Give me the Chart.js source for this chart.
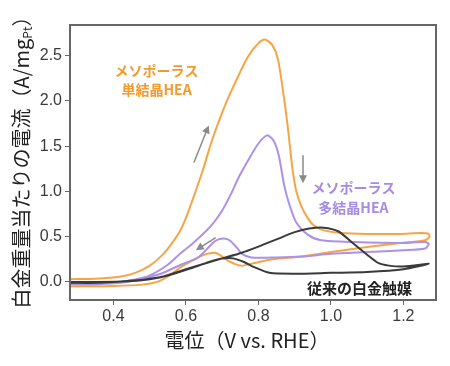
<!DOCTYPE html>
<html>
<head>
<meta charset="utf-8">
<script src="https://cdn.jsdelivr.net/npm/chart.js@4"></script>
<style>
  body { margin: 0; background: #fff; }
</style>
</head>
<body>
<canvas id="cv" width="450" height="366"></canvas>
<script>
// Potential (V vs. RHE) and current (A/mgPt), each loop is forward scan then backward scan
const orangeV = [0.28, 0.35, 0.42, 0.46, 0.50, 0.538, 0.56, 0.586, 0.605, 0.622, 0.647, 0.669, 0.693, 0.724, 0.771, 0.80, 0.818, 0.838, 0.854, 0.871, 0.879, 0.886, 0.894, 0.904, 0.918, 0.937, 0.954, 0.98, 1.03, 1.10, 1.19, 1.25, 1.27,
                 1.272, 1.26, 1.19, 1.09, 1.0, 0.92, 0.84, 0.79, 0.752, 0.718, 0.683, 0.65, 0.62, 0.585, 0.55, 0.52, 0.48, 0.40, 0.28];
const orangeI = [0.03, 0.035, 0.06, 0.10, 0.18, 0.31, 0.42, 0.58, 0.76, 0.95, 1.24, 1.53, 1.80, 2.10, 2.49, 2.64, 2.68, 2.62, 2.46, 2.02, 1.78, 1.53, 1.25, 1.01, 0.84, 0.70, 0.62, 0.57, 0.54, 0.53, 0.53, 0.54, 0.53,
                 0.50, 0.46, 0.43, 0.38, 0.33, 0.28, 0.25, 0.21, 0.18, 0.23, 0.32, 0.30, 0.24, 0.16, 0.06, 0.0, -0.03, -0.045, -0.05];

const purpleV = [0.28, 0.35, 0.42, 0.45, 0.494, 0.55, 0.586, 0.62, 0.669, 0.70, 0.724, 0.746, 0.771, 0.80, 0.824, 0.842, 0.856, 0.871, 0.885, 0.904, 0.937, 0.973, 1.065, 1.20, 1.26, 1.27,
                 1.26, 1.20, 1.10, 1.0, 0.92, 0.85, 0.78, 0.755, 0.74, 0.72, 0.705, 0.69, 0.677, 0.633, 0.586, 0.53, 0.475, 0.42, 0.35, 0.28];
const purpleI = [-0.015, -0.01, 0.0, 0.02, 0.06, 0.19, 0.32, 0.43, 0.62, 0.79, 0.97, 1.16, 1.34, 1.53, 1.62, 1.56, 1.40, 1.07, 0.86, 0.66, 0.52, 0.46, 0.44, 0.43, 0.44, 0.42,
                 0.37, 0.35, 0.33, 0.31, 0.28, 0.27, 0.27, 0.31, 0.38, 0.46, 0.48, 0.47, 0.44, 0.27, 0.19, 0.09, 0.03, -0.01, -0.025, -0.03];

const blackV = [0.28, 0.35, 0.42, 0.475, 0.50, 0.538, 0.60, 0.65, 0.70, 0.752, 0.80, 0.85, 0.90, 0.94, 0.98, 1.02, 1.06, 1.10, 1.13, 1.16, 1.20, 1.27,
                1.20, 1.10, 1.0, 0.9, 0.83, 0.79, 0.76, 0.73, 0.70, 0.67, 0.62, 0.55, 0.50, 0.45, 0.35, 0.28];
const blackI = [0.0, 0.0, 0.005, 0.02, 0.035, 0.06, 0.14, 0.20, 0.26, 0.32, 0.39, 0.47, 0.55, 0.59, 0.60, 0.56, 0.43, 0.30, 0.21, 0.18, 0.17, 0.20,
                0.14, 0.11, 0.10, 0.09, 0.10, 0.16, 0.22, 0.26, 0.26, 0.23, 0.16, 0.07, 0.03, 0.01, -0.01, -0.01];

const xTicks = [0.4, 0.6, 0.8, 1.0, 1.2];
const yTicks = [0.0, 0.5, 1.0, 1.5, 2.0, 2.5];

const orangeColor = '#F7A445';
const purpleColor = '#AB91E8';
const blackColor = '#3a3a3a';

// annotation labels and arrows, placed in data units
const labels = [
    { lines: ['メソポーラス', '単結晶HEA'], x: 0.519, y: [2.33, 2.13], color: '#F39A2D', size: 14 },
    { lines: ['メソポーラス', '多結晶HEA'], x: 1.062, y: [1.04, 0.82], color: '#A58BE2', size: 14 },
    { lines: ['従来の白金触媒'], x: 1.079, y: [-0.066], color: '#222', size: 15 }
];
const arrows = [
    { from: [0.622, 1.32], to: [0.663, 1.73] },
    { from: [0.923, 1.40], to: [0.923, 1.09] },
    { from: [0.682, 0.49], to: [0.627, 0.35] }
];

function pairs(xs, ys) {
    return xs.map((x, i) => ({ x: x, y: ys[i] }));
}

const cjk = '"Noto Sans CJK JP", "Noto Sans", sans-serif';

const decor = {
    id: 'decor',
    afterDraw(chart) {
        const ctx = chart.ctx;
        const a = chart.chartArea;
        const xs = chart.scales.x, ys = chart.scales.y;
        ctx.save();

        // frame
        ctx.strokeStyle = '#666';
        ctx.lineWidth = 2;
        ctx.strokeRect(a.left, a.top, a.right - a.left, a.bottom - a.top);

        // arrows
        ctx.strokeStyle = '#8a8a8a';
        ctx.fillStyle = '#8a8a8a';
        ctx.lineWidth = 1.5;
        arrows.forEach(ar => {
            const x1 = xs.getPixelForValue(ar.from[0]), y1 = ys.getPixelForValue(ar.from[1]);
            const x2 = xs.getPixelForValue(ar.to[0]), y2 = ys.getPixelForValue(ar.to[1]);
            const ang = Math.atan2(y2 - y1, x2 - x1);
            ctx.beginPath();
            ctx.moveTo(x1, y1);
            ctx.lineTo(x2 - 5 * Math.cos(ang), y2 - 5 * Math.sin(ang));
            ctx.stroke();
            ctx.beginPath();
            ctx.moveTo(x2, y2);
            ctx.lineTo(x2 - 8 * Math.cos(ang) + 4 * Math.sin(ang), y2 - 8 * Math.sin(ang) - 4 * Math.cos(ang));
            ctx.lineTo(x2 - 8 * Math.cos(ang) - 4 * Math.sin(ang), y2 - 8 * Math.sin(ang) + 4 * Math.cos(ang));
            ctx.closePath();
            ctx.fill();
        });

        // series labels
        ctx.textAlign = 'center';
        ctx.textBaseline = 'middle';
        labels.forEach(lb => {
            ctx.fillStyle = lb.color;
            ctx.font = 'bold ' + lb.size + 'px ' + cjk;
            lb.lines.forEach((t, i) => {
                ctx.fillText(t, xs.getPixelForValue(lb.x), ys.getPixelForValue(lb.y[i]));
            });
        });

        // x title
        ctx.fillStyle = '#222';
        ctx.font = '20px ' + cjk;
        ctx.fillText('電位（V vs. RHE）', (a.left + a.right) / 2 - 6, 340);

        // y title with subscript
        ctx.translate(21, (a.top + a.bottom) / 2 - 5);
        ctx.rotate(-Math.PI / 2);
        const main = '白金重量当たりの電流（A/mg';
        const sub = 'Pt';
        const end = '）';
        const fMain = '20px ' + cjk, fSub = '12px ' + cjk;
        ctx.font = fMain;
        const wMain = ctx.measureText(main).width, wEnd = ctx.measureText(end).width;
        ctx.font = fSub;
        const wSub = ctx.measureText(sub).width;
        let x0 = -(wMain + wSub + wEnd) / 2;
        ctx.textAlign = 'left';
        ctx.font = fMain;
        ctx.fillText(main, x0, 0);
        ctx.font = fSub;
        ctx.fillText(sub, x0 + wMain, 6);
        ctx.font = fMain;
        ctx.fillText(end, x0 + wMain + wSub, 0);
        ctx.restore();
    }
};

new Chart(document.getElementById('cv'), {
    type: 'scatter',
    data: {
        datasets: [
            { data: pairs(blackV, blackI), borderColor: blackColor },
            { data: pairs(purpleV, purpleI), borderColor: purpleColor },
            { data: pairs(orangeV, orangeI), borderColor: orangeColor }
        ].map(d => Object.assign(d, { showLine: true, pointRadius: 0, borderWidth: 2, tension: 0.25, fill: false }))
    },
    options: {
        responsive: false,
        animation: false,
        layout: { padding: { left: 0, top: 25, right: 14, bottom: 0 } },
        plugins: { legend: { display: false }, tooltip: { enabled: false } },
        scales: {
            x: {
                type: 'linear',
                min: 0.28, max: 1.29,
                afterFit: s => { s.height = 66; },
                afterBuildTicks: s => { s.ticks = xTicks.map(v => ({ value: v })); },
                ticks: { callback: v => v.toFixed(1), color: '#3a3a3a', font: { size: 16, family: 'Liberation Sans, Arial, sans-serif' }, padding: 2 },
                grid: { drawOnChartArea: false, drawTicks: true, tickLength: 5, color: '#666' },
                border: { display: true, color: '#666', width: 2 }
            },
            y: {
                type: 'linear',
                min: -0.2, max: 2.84,
                afterFit: s => { s.width = 70; },
                afterBuildTicks: s => { s.ticks = yTicks.map(v => ({ value: v })); },
                ticks: { callback: v => v.toFixed(1), color: '#3a3a3a', font: { size: 16, family: 'Liberation Sans, Arial, sans-serif' }, padding: 3 },
                grid: { drawOnChartArea: false, drawTicks: true, tickLength: 5, color: '#666' },
                border: { display: true, color: '#666', width: 2 }
            }
        }
    },
    plugins: [decor]
});
</script>
</body>
</html>
